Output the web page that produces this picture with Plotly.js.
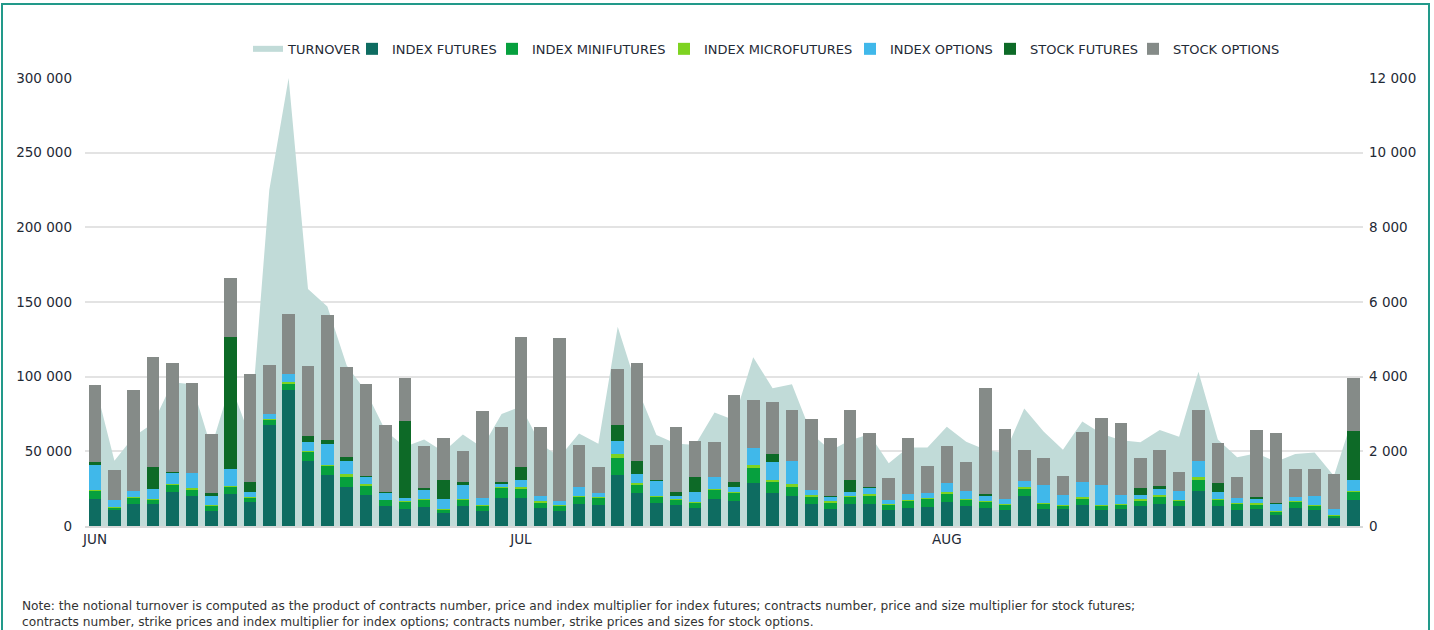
<!DOCTYPE html>
<html>
<head>
<meta charset="utf-8">
<script src="https://cdn.plot.ly/plotly-3.0.1.min.js"></script>
<style>
  html, body { margin: 0; padding: 0; background: #ffffff; overflow: hidden; }
  #frame { position: absolute; left: 1px; top: 3px; width: 1425px; height: 700px;
           border: 2px solid #22998a; pointer-events: none; }
  #chart { position: absolute; left: 0; top: 0; width: 1434px; height: 630px; }
</style>
</head>
<body>
<div id="chart"></div>
<div id="frame"></div>
<script>
// Trading-day positions (66 sessions, June–August)
const days = Array.from({length: 66}, (_, i) => i);
const monthTickDays = [0, 22, 44];
const monthLabels = ['JUN', 'JUL', 'AUG'];

// Contracts (thousands)
const indexFutures = [18.1,10.7,14.7,14.7,22.8,20.1,10.0,21.4,16.1,67.6, 91.1,43.5,34.1,26.1,20.8,13.4,11.4,12.5,8.7,13.4, 10.0,18.7,18.7,12.0,9.8,14.7,14.1,33.9,21.9,15.2, 13.8,12.0,17.9,16.7,28.8,21.9,20.1,14.7,11.2,14.7, 14.7,10.7,12.0,12.7,16.1,13.4,12.0,10.7,20.1,11.2, 11.4,14.1,10.7,11.4,13.4,14.7,13.4,23.4,13.4,10.7, 11.4,7.4,12.0,10.7,5.4,17.4];
const indexMinifutures = [5.6,1.6,4.0,2.7,4.7,4.0,3.3,4.5,2.5,3.3, 4.0,6.2,6.2,6.9,6.0,3.8,4.9,4.9,2.0,3.8, 3.1,6.7,6.0,3.6,3.3,4.5,4.5,11.8,5.6,4.2, 3.3,3.3,6.2,5.1,10.0,7.6,6.0,4.7,4.5,4.5, 5.4,3.1,4.7,5.1,5.4,4.0,4.0,3.1,4.7,3.6, 2.0,4.0,2.7,2.7,3.6,4.7,3.1,7.4,4.0,3.8, 2.7,2.2,4.0,2.7,1.6,5.4];
const indexMicrofutures = [0.5,0.3,0.7,0.7,0.9,1.1,0.7,0.9,0.9,0.7, 1.3,0.7,0.7,1.8,1.3,0.4,0.7,0.7,0.7,0.9, 0.7,0.9,1.3,1.1,0.7,0.9,0.9,2.5,1.6,0.7, 0.7,0.9,0.9,0.9,2.0,1.3,2.0,1.3,1.1,0.9, 1.3,0.9,0.9,0.9,1.3,0.7,0.7,0.9,1.3,0.7, 0.7,1.3,0.7,0.9,1.1,1.1,0.9,2.0,0.7,0.9, 1.3,0.7,0.7,0.7,0.4,0.7];
const indexOptions = [16.7,4.9,3.8,6.7,6.9,10.3,6.0,11.4,3.3,3.3, 5.6,5.8,13.8,8.7,4.7,4.7,1.8,6.0,6.7,9.4, 5.1,2.0,4.7,3.1,2.9,6.0,2.5,8.7,5.8,10.0, 2.2,6.5,7.6,3.3,11.2,12.0,15.6,3.3,2.9,2.7, 4.0,2.7,3.8,3.1,5.8,5.4,3.3,3.3,4.0,11.8, 6.5,9.8,13.6,5.6,2.7,4.2,6.0,10.9,4.7,3.3, 2.7,4.5,2.5,6.0,4.0,7.4];
const stockFutures = [1.8,0,0.2,15.0,0.7,0.2,1.8,88.2,6.5,0.4, 0,4.0,2.7,2.5,0.4,0.2,51.6,1.3,12.7,2.0, 0,1.3,8.5,0.2,0,0.2,0,10.7,8.5,0.7, 3.1,10.3,0.2,3.6,0,5.4,0,0,0.2,7.8, 0.7,0,0,0,0,0,1.3,0,0,0, 0,0,0,0,4.9,2.2,0,0,6.2,0, 1.6,0.7,0,0,0,32.4];
const stockOptions = [52.0,20.0,67.9,73.2,73.2,59.8,39.5,40.0,72.3,32.4, 39.7,47.1,83.7,60.7,62.0,44.9,28.6,28.1,27.9,21.0, 58.3,36.4,87.5,46.6,109.4,27.9,17.2,37.5,65.8,23.2, 43.1,24.1,23.4,58.0,32.4,35.0,33.9,47.5,38.8,46.9, 35.9,14.5,37.5,18.5,25.0,19.2,70.8,47.1,20.5,18.1, 12.9,33.7,44.4,48.2,19.6,23.7,12.7,33.9,26.3,14.3, 44.6,46.9,19.0,18.1,23.2,35.9];

// Notional turnover (right axis)
const turnover = [3800,1750,2400,2750,3850,3800,2100,3800,2400,9000, 12000,6350,5880,4300,3600,2550,2120,2320,1990,2450, 2100,3000,3200,2200,1850,2480,2200,5340,3700,2440, 2210,2170,3040,2840,4520,3690,3800,2480,2020,2300, 2460,1680,2100,2100,2660,2260,2040,1950,3150,2530, 2040,2800,2470,2300,2240,2570,2390,4130,2320,1840, 1950,1720,1930,1970,1340,2950];

const seriesNames = ['TURNOVER','INDEX FUTURES','INDEX MINIFUTURES','INDEX MICROFUTURES','INDEX OPTIONS','STOCK FUTURES','STOCK OPTIONS'];

const noteLine1 = 'Note: the notional turnover is computed as the product of contracts number, price and index multiplier for index futures; contracts number, price and size multiplier for stock futures;';
const noteLine2 = 'contracts number, strike prices and index multiplier for index options; contracts number, strike prices and sizes for stock options.';

const k = arr => arr.map(v => v * 1000);
const FONT = '"DejaVu Sans", Verdana, sans-serif';
const TXT = '#1f2a36';

// plot-area geometry (pixels) used to place the individual legend entries
const PL = 85, PW = 1278;
const legendTextStart = [291, 395, 535, 707, 893, 1033, 1176];
const legendIds = ['legend', 'legend2', 'legend3', 'legend4', 'legend5', 'legend6', 'legend7'];

function barTrace(i, vals, color) {
  return { type: 'bar', name: seriesNames[i], x: days, y: k(vals), yaxis: 'y2', legend: legendIds[i],
           marker: { color: color, line: { width: 0 } }, hoverinfo: 'skip' };
}

const traces = [
  { type: 'scatter', name: seriesNames[0], x: days, y: turnover, yaxis: 'y', legend: legendIds[0],
    mode: 'none', fill: 'tozeroy', fillcolor: '#c1dbd8', hoverinfo: 'skip' },
  barTrace(1, indexFutures, '#0e6c61'),
  barTrace(2, indexMinifutures, '#06a03e'),
  barTrace(3, indexMicrofutures, '#7ed321'),
  barTrace(4, indexOptions, '#40b8ea'),
  barTrace(5, stockFutures, '#0d6a27'),
  barTrace(6, stockOptions, '#858b88')
];

const layout = {
  width: 1434, height: 630,
  paper_bgcolor: 'rgba(0,0,0,0)', plot_bgcolor: 'rgba(0,0,0,0)',
  margin: { l: 85, r: 71, t: 78, b: 104, pad: 0 },
  font: { family: FONT, size: 13.5, color: TXT },
  separators: '. ',
  barmode: 'stack', bargap: 0.35,
  showlegend: true,
  xaxis: { type: 'linear', range: [-0.52, 65.5], tickmode: 'array', tickvals: monthTickDays,
           ticktext: monthLabels, showgrid: false, zeroline: false, showline: true,
           linecolor: '#d9d9d9', linewidth: 2, ticks: '', tickfont: { size: 13.5, color: TXT } },
  yaxis: { side: 'right', range: [0, 12000], tickvals: [0,2000,4000,6000,8000,10000,12000],
           tickformat: ',d', showgrid: false, zeroline: false, ticks: '',
           tickfont: { size: 13.5, color: TXT }, ticklabelstandoff: 5 },
  yaxis2: { side: 'left', overlaying: 'y', range: [0, 300000],
            tickvals: [0,50000,100000,150000,200000,250000,300000], tickformat: ',d',
            showgrid: true, gridcolor: '#e3e3e3', gridwidth: 2, zeroline: false, ticks: '',
            tickfont: { size: 13.5, color: TXT }, ticklabelstandoff: 12 },
  annotations: [
    { xref: 'paper', yref: 'paper', x: -0.0509, y: -0.1786, xanchor: 'left', yanchor: 'middle',
      text: noteLine1, showarrow: false, align: 'left', font: { family: FONT, size: 12.2, color: '#333333' } },
    { xref: 'paper', yref: 'paper', x: -0.0509, y: -0.2143, xanchor: 'left', yanchor: 'middle',
      text: noteLine2, showarrow: false, align: 'left', font: { family: FONT, size: 12.2, color: '#333333' } }
  ]
};

legendIds.forEach((id, i) => {
  layout[id] = { orientation: 'h', x: (legendTextStart[i] - 3 - 40 - PL) / PW, xanchor: 'left',
                 y: 1.065, yanchor: 'middle', itemwidth: 30, borderwidth: 0,
                 bgcolor: 'rgba(0,0,0,0)', font: { family: FONT, size: 13, color: TXT } };
});

Plotly.newPlot('chart', traces, layout, { staticPlot: true, displayModeBar: false });
</script>
</body>
</html>
